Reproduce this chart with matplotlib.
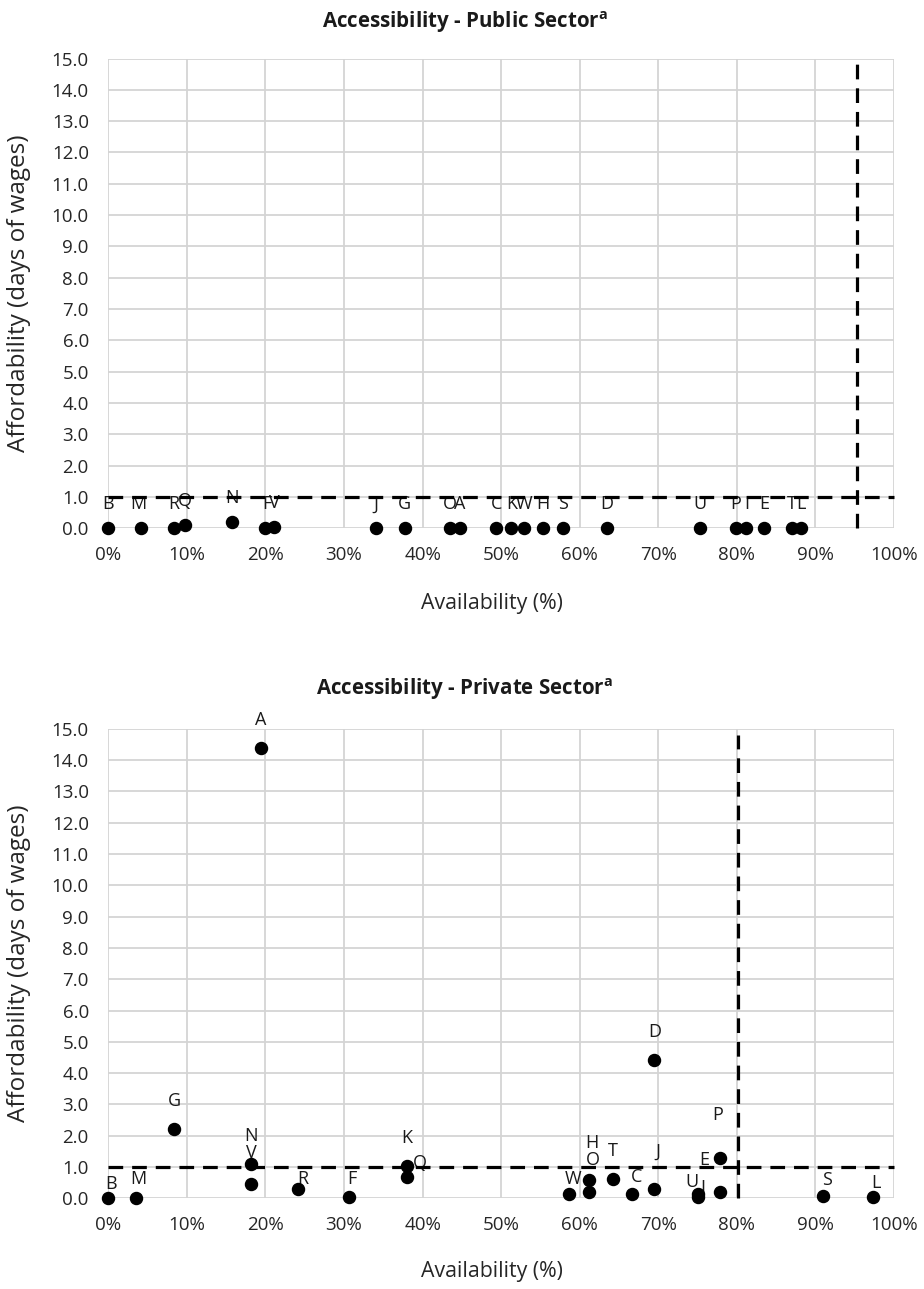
import numpy as np
import matplotlib
matplotlib.use('Agg')
import matplotlib.pyplot as plt
from matplotlib.ticker import FuncFormatter, MultipleLocator

plt.rcParams['font.family'] = ['Open Sans', 'DejaVu Sans']

# public sector: availability (%) and affordability (days of wages)
pub_names = ['B', 'M', 'R', 'Q', 'N', 'F', 'V', 'J', 'G', 'O', 'A', 'C',
             'K', 'W', 'H', 'S', 'D', 'U', 'P', 'I', 'E', 'T', 'L']
pub_avail = [0.0, 4.2, 8.4, 9.8, 15.8, 20.0, 21.1, 34.1, 37.7, 43.5, 44.7, 49.4,
             51.3, 52.9, 55.3, 57.9, 63.5, 75.3, 79.9, 81.2, 83.5, 87.0, 88.2]
pub_afford = [0.0, 0.0, 0.0, 0.1, 0.2, 0.0, 0.05, 0.0, 0.0, 0.0, 0.0, 0.0,
              0.0, 0.0, 0.0, 0.0, 0.0, 0.0, 0.0, 0.0, 0.0, 0.0, 0.0]
pub_avail_cut = 95.3
pub_afford_cut = 1.0

# private sector
priv_names = ['A', 'B', 'C', 'D', 'E', 'F', 'G', 'H', 'I', 'J', 'K', 'L',
              'M', 'N', 'O', 'P', 'Q', 'R', 'S', 'T', 'U', 'V', 'W']
priv_avail = [19.4, 0.0, 66.7, 69.5, 77.8, 30.6, 8.4, 61.2, 75.0, 69.5, 38.0, 97.3,
              3.5, 18.2, 61.2, 77.8, 38.0, 24.2, 91.0, 64.2, 75.1, 18.2, 58.6]
priv_afford = [14.4, 0.0, 0.14, 4.42, 0.21, 0.05, 2.2, 0.58, 0.15, 0.31, 1.04, 0.03,
               0.0, 1.1, 0.2, 1.28, 0.67, 0.29, 0.08, 0.61, 0.03, 0.45, 0.14]
priv_avail_cut = 80.2
priv_afford_cut = 1.0

# label nudges in pixels (dx, dy); anything not listed sits straight above its point
pub_nudge = {'M': (-3, 24), 'F': (1, 24)}
priv_nudge = {'B': (3, 14), 'M': (3, 19), 'R': (4, 10), 'F': (3, 18), 'Q': (13, 14),
              'W': (4, 15), 'O': (4, 32), 'H': (3, 37), 'C': (4, 17), 'J': (3, 37),
              'U': (-6, 15), 'I': (5, 6), 'E': (-15, 32), 'P': (-2, 43),
              'S': (4, 16), 'L': (3, 14), 'V': (0, 31)}

W, H = 924, 1289
fig = plt.figure(figsize=(W / 100, H / 100), dpi=100)
PX = 72 / 100  # points per pixel
TXT = '#262626'


def make_ax(top, bottom, left=108.3, right=894.0):
    return fig.add_axes([left / W, 1 - bottom / H, (right - left) / W, (bottom - top) / H])


def draw_panel(ax, names, avail, afford, avail_cut, afford_cut, vtop, nudge, default_dy):
    ax.set_xlim(0, 100)
    ax.set_ylim(0, 15)
    ax.xaxis.set_major_locator(MultipleLocator(10))
    ax.yaxis.set_major_locator(MultipleLocator(1))
    ax.xaxis.set_major_formatter(FuncFormatter(lambda v, p: f'{v:.0f}%'))
    ax.yaxis.set_major_formatter(FuncFormatter(lambda v, p: f'{v:.1f}'))
    ax.grid(True, color='#d4d4d4', linewidth=1.3, zorder=0)
    for s in ax.spines.values():
        s.set_visible(False)
    ax.tick_params(axis='y', length=0, labelsize=13.5, labelcolor=TXT, pad=14)
    ax.tick_params(axis='x', length=0, labelsize=13.5, labelcolor=TXT, pad=13)

    ax.scatter(avail, afford, s=75, color='black', zorder=4, clip_on=False)
    for n, x, y in zip(names, avail, afford):
        dx, dy = nudge.get(n, (0, default_dy))
        ax.annotate(n, (x, y), xytext=(dx * PX, dy * PX), textcoords='offset points',
                    ha='center', va='center', fontsize=13, color='#1a1a1a', zorder=3)

    dash = (0, (4.6, 2.8))
    ax.plot([0, 100], [afford_cut, afford_cut], color='black', lw=2.3,
            linestyle=dash, zorder=5, clip_on=False)
    ax.plot([avail_cut, avail_cut], [0, vtop], color='black', lw=2.3,
            linestyle=dash, zorder=5, clip_on=False)

    ax.set_ylabel('Affordability (days of wages)', fontsize=17.5, color=TXT)
    ax.yaxis.set_label_coords(-0.099, 0.5)


ax1 = make_ax(58.5, 528.3)
draw_panel(ax1, pub_names, pub_avail, pub_afford, pub_avail_cut, pub_afford_cut,
           15.0, pub_nudge, 24)
ax2 = make_ax(728.8, 1198.3)
draw_panel(ax2, priv_names, priv_avail, priv_afford, priv_avail_cut, priv_afford_cut,
           14.8, priv_nudge, 28)

for y in (604, 1272):
    fig.text(492 / W, 1 - y / H, 'Availability (%)', ha='center', va='center',
             fontsize=15.3, color=TXT)

fig.text(465 / W, 1 - 22 / H, r'Accessibility - Public Sector$^{\mathregular{a}}$',
         ha='center', va='center', fontsize=14.8, fontweight='bold', color='#1a1a1a')
fig.text(465 / W, 1 - 689 / H, r'Accessibility - Private Sector$^{\mathregular{a}}$',
         ha='center', va='center', fontsize=14.8, fontweight='bold', color='#1a1a1a')

fig.savefig('out.png', dpi=100, facecolor='white')
